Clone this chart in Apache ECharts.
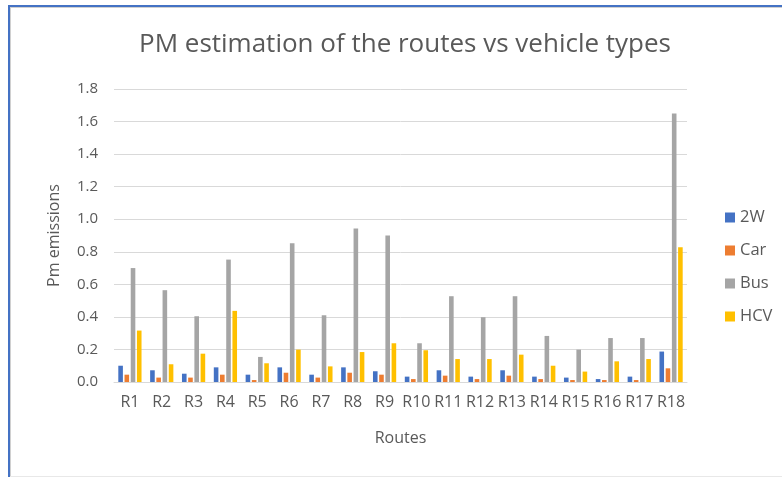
<!DOCTYPE html>
<html>
<head>
<meta charset="utf-8">
<script src="https://cdn.jsdelivr.net/npm/echarts@6/dist/echarts.min.js"></script>
<style>
html,body{margin:0;padding:0;background:#fff;}
#chart{width:782px;height:477px;}
</style>
</head>
<body>
<div id="chart"></div>
<script>
const categories = ['R1','R2','R3','R4','R5','R6','R7','R8','R9','R10','R11','R12','R13','R14','R15','R16','R17','R18'];
const seriesNames = ['2W','Car','Bus','HCV'];
const values2W  = [0.10,0.072,0.051,0.09,0.045,0.09,0.045,0.09,0.066,0.033,0.072,0.033,0.072,0.033,0.027,0.018,0.033,0.187];
const valuesCar = [0.045,0.027,0.027,0.045,0.012,0.057,0.027,0.057,0.045,0.018,0.039,0.018,0.039,0.018,0.012,0.012,0.012,0.084];
const valuesBus = [0.70,0.564,0.404,0.752,0.154,0.853,0.41,0.943,0.90,0.238,0.527,0.398,0.527,0.283,0.199,0.27,0.27,1.65];
const valuesHCV = [0.316,0.109,0.174,0.437,0.115,0.199,0.096,0.184,0.238,0.195,0.141,0.141,0.168,0.10,0.064,0.127,0.141,0.828];
const yTicks = {min:0, max:1.8, interval:0.2};
const colors = ['#4472C4','#ED7D31','#A5A5A5','#FFC000'];

const FONT = 'Open Sans';
const allValues = [values2W, valuesCar, valuesBus, valuesHCV];
const chart = echarts.init(document.getElementById('chart'), null, {renderer:'canvas'});
chart.setOption({
  animation:false,
  color: colors,
  textStyle:{fontFamily:FONT},
  title:{
    text:'PM estimation of the routes vs vehicle types',
    left:134, top:27,
    textStyle:{fontFamily:FONT, fontSize:26, fontWeight:'normal', color:'#595959'}
  },
  legend:{
    orient:'vertical', left:720, top:204,
    itemWidth:10, itemHeight:10, itemGap:16,
    icon:'rect',
    textStyle:{fontFamily:FONT, fontSize:16.5, color:'#595959'},
    data: seriesNames
  },
  grid:{left:114, right:95, top:89, bottom:95, containLabel:false},
  xAxis:{
    type:'category', data:categories,
    name:'Routes', nameLocation:'middle', nameGap:48,
    nameTextStyle:{fontFamily:FONT, fontSize:16, color:'#595959'},
    axisLine:{lineStyle:{color:'#d9d9d9', width:1}},
    axisTick:{show:false},
    axisLabel:{interval:0, margin:12, fontFamily:FONT, fontSize:16, color:'#595959'}
  },
  yAxis:{
    type:'value', min:yTicks.min, max:yTicks.max, interval:yTicks.interval,
    name:'Pm emissions', nameLocation:'middle', nameGap:52, nameRotate:90,
    nameTextStyle:{fontFamily:FONT, fontSize:16, color:'#595959'},
    axisLine:{show:false}, axisTick:{show:false},
    splitLine:{lineStyle:{color:'#d9d9d9', width:1}},
    axisLabel:{margin:16, fontFamily:FONT, fontSize:15, color:'#595959',
      formatter:v=>v.toFixed(1)}
  },
  series: seriesNames.map((n,i)=>({
    name:n, type:'bar', data:allValues[i],
    barWidth:4.6, barGap:'35%'
  })),
  graphic:[
    {type:'line', shape:{x1:9, y1:5, x2:9, y2:477}, style:{stroke:'#4472C4', lineWidth:2}, silent:true},
    {type:'line', shape:{x1:8, y1:6, x2:782, y2:6}, style:{stroke:'#4472C4', lineWidth:2}, silent:true},
    {type:'line', shape:{x1:10.5, y1:7, x2:10.5, y2:477}, style:{stroke:'#d0d0d0', lineWidth:1}, silent:true},
    {type:'line', shape:{x1:10, y1:7.5, x2:782, y2:7.5}, style:{stroke:'#d0d0d0', lineWidth:1}, silent:true},
    {type:'line', shape:{x1:10, y1:476.5, x2:782, y2:476.5}, style:{stroke:'#e8e8e8', lineWidth:1}, silent:true}
  ]
});
</script>
</body>
</html>
